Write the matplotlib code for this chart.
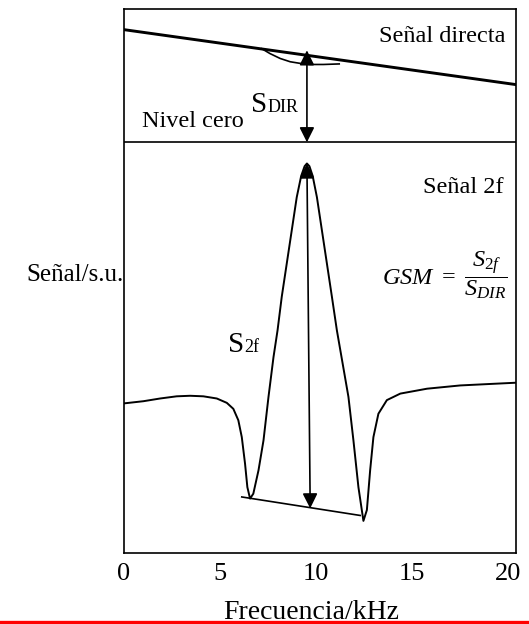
import numpy as np
import matplotlib.pyplot as plt
from matplotlib.lines import Line2D

plt.rcParams['font.family'] = ['Liberation Serif', 'DejaVu Serif']
plt.rcParams['mathtext.fontset'] = 'custom'
plt.rcParams['mathtext.rm'] = 'Liberation Serif'
plt.rcParams['mathtext.it'] = 'Liberation Serif:italic'

# Señal directa (recta con pequeña absorción)
f_dir = [0.0, 20.4]
s_dir = [2.07, 1.06]
f_abs = [7.17, 7.60, 8.13, 8.65, 9.17, 9.69, 10.38, 11.20]
s_abs = [1.72, 1.63, 1.54, 1.48, 1.45, 1.43, 1.43, 1.44]

# Señal 2f
f_2f = [0.00, 1.01, 1.88, 2.74, 3.44, 4.13, 4.83, 5.35, 5.69, 5.95, 6.13, 6.30,
        6.42, 6.56, 6.73, 7.00, 7.26, 7.52, 7.78, 7.99, 8.21, 8.47, 8.73, 8.99,
        9.22, 9.40, 9.52, 9.65, 9.82, 10.04, 10.30, 10.56, 10.82, 11.08, 11.38,
        11.68, 11.94, 12.20, 12.46, 12.64, 12.81, 12.98, 13.24, 13.68, 14.38,
        15.77, 17.50, 19.23, 20.40]
s_2f = [-4.80, -4.76, -4.71, -4.67, -4.66, -4.67, -4.71, -4.79, -4.90, -5.11,
        -5.42, -5.91, -6.34, -6.55, -6.46, -6.03, -5.48, -4.68, -3.95, -3.46,
        -2.84, -2.23, -1.62, -1.01, -0.62, -0.44, -0.39, -0.44, -0.62, -1.01,
        -1.62, -2.23, -2.84, -3.46, -4.07, -4.68, -5.48, -6.34, -6.96, -6.76,
        -6.03, -5.42, -4.99, -4.74, -4.62, -4.53, -4.47, -4.44, -4.42]

# línea base entre los dos mínimos
f_base = [6.13, 12.29]
s_base = [-6.52, -6.86]

# flechas S_DIR y S_2f (f, s_inicio, s_fin)
f_sdir, sdir_bot, sdir_top = 9.52, 0.0, 1.69
f_s2f_top, s2f_top = 9.52, -0.39
f_s2f_bot, s2f_bot = 9.69, -6.73

xticks = [0, 5, 10, 15, 20]

fig = plt.figure(figsize=(5.29, 6.24), dpi=100)
ax = fig.add_axes([0.2344, 0.1138, 0.7410, 0.8718])

ax.plot(f_dir, s_dir, color='black', lw=2.1)
ax.plot(f_abs, s_abs, color='black', lw=1.2)
ax.axhline(0, color='black', lw=1.2)
ax.plot(f_2f, s_2f, color='black', lw=1.4)
ax.plot(f_base, s_base, color='black', lw=1.2)

arrow = dict(arrowstyle='<|-|>,head_length=0.9,head_width=0.45',
             color='black', lw=1.2, mutation_scale=10, shrinkA=0, shrinkB=0)
ax.annotate('', xy=(f_sdir, sdir_top), xytext=(f_sdir, sdir_bot), arrowprops=arrow)
ax.annotate('', xy=(f_s2f_top, s2f_top), xytext=(f_s2f_bot, s2f_bot), arrowprops=arrow)

# textos
ax.text(19.84, 1.84, 'Señal directa', fontsize=17.5, ha='right', va='baseline')
ax.text(0.94, 0.276, 'Nivel cero', fontsize=17.5, ha='left', va='baseline')
ax.text(19.74, -0.94, 'Señal 2f', fontsize=17.5, ha='right', va='baseline')
ax.text(7.45, 0.55, 'S', fontsize=21, ha='right', va='baseline')
ax.text(7.45, 0.55, 'DIR', fontsize=13, ha='left', va='baseline')
ax.text(6.25, -3.86, 'S', fontsize=21, ha='right', va='baseline')
ax.text(6.25, -3.86, '2f', fontsize=13, ha='left', va='baseline')
ax.text(19.95, -2.45, r'$GSM\ =\ \dfrac{S_{2f}}{S_{DIR}}$', fontsize=17.5,
        ha='right', va='center')

ax.set_xlim(0, 20.4)
ax.set_ylim(-7.55, 2.45)
ax.set_xticks(xticks)
ax.set_xticklabels([str(t) for t in xticks])
ax.set_yticks([])
ax.tick_params(axis='x', length=0, pad=7, labelsize=19)
for sp in ax.spines.values():
    sp.set_linewidth(1.2)

ax.set_xlabel('Frecuencia/kHz', fontsize=20, va='baseline')
ax.xaxis.set_label_coords(0.478, -0.121)
ax.set_ylabel('Señal/s.u.', fontsize=18, rotation=0, ha='right', va='center')
ax.yaxis.set_label_coords(-0.002, 0.511)

fig.add_artist(Line2D([0, 1], [0.004, 0.004], transform=fig.transFigure,
                      color='red', lw=2.4))

fig.savefig('out.png', dpi=100)
